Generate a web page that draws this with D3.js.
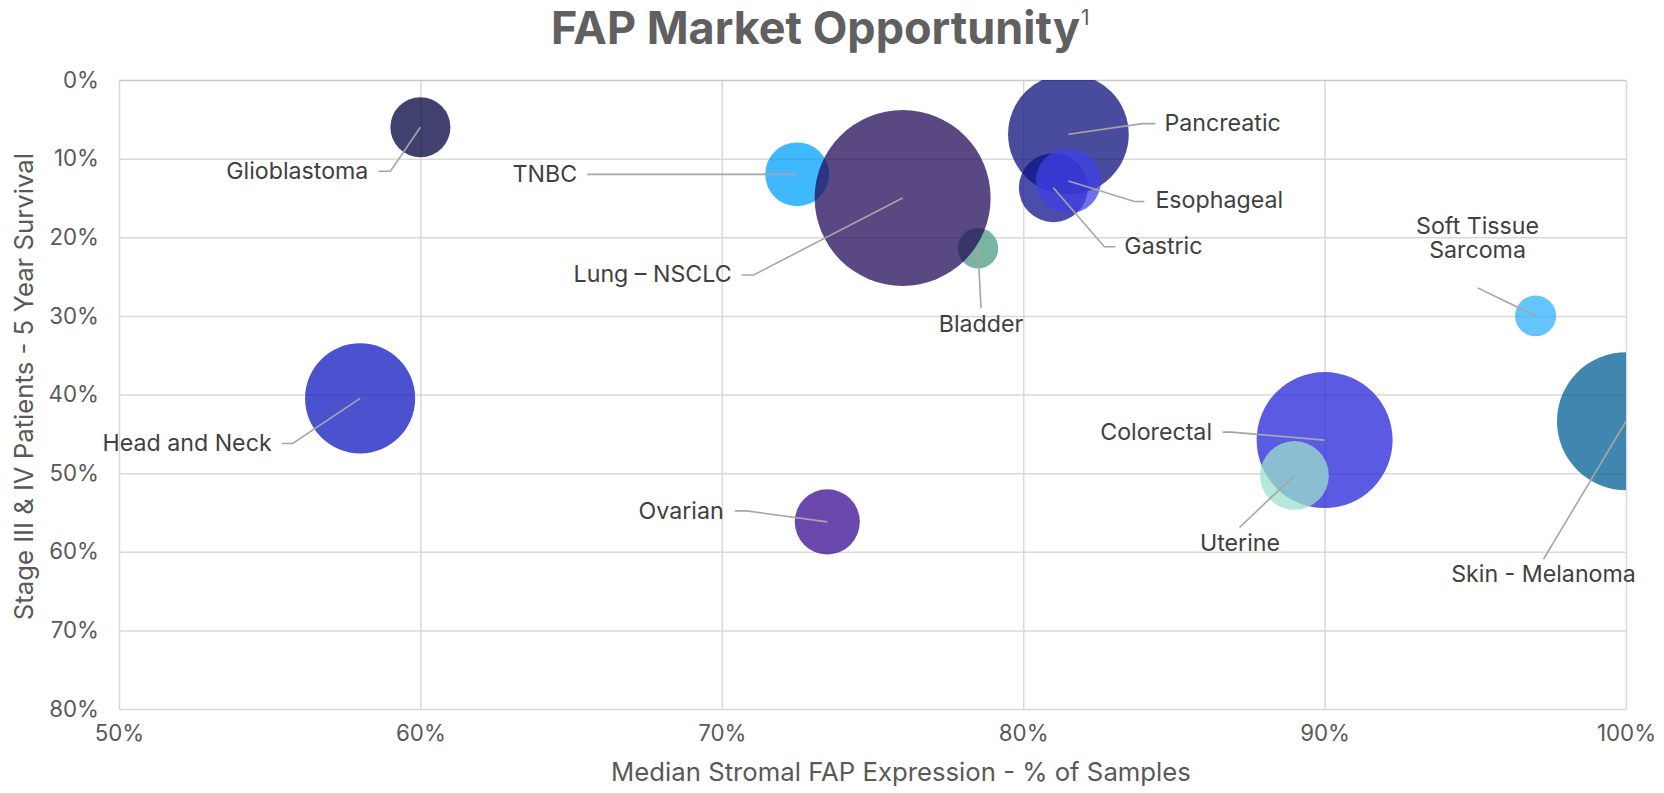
<!DOCTYPE html>
<html>
<head>
<meta charset="utf-8">
<script src="https://cdn.jsdelivr.net/npm/d3@7"></script>
<style>
  html, body { margin: 0; padding: 0; background: #ffffff; }
  svg { display: block; font-family: Inter, "Noto Sans", sans-serif; }
</style>
</head>
<body>
<svg id="chart" width="1664" height="793"></svg>
<script>
// ---------------- DATA ----------------
const cancers = ["Glioblastoma", "TNBC", "Bladder", "Lung \u2013 NSCLC", "Pancreatic", "Gastric",
  "Esophageal", "Soft Tissue Sarcoma", "Head and Neck", "Colorectal", "Uterine", "Skin - Melanoma", "Ovarian"];
const fapExpression = [60.0, 72.5, 78.5, 76.0, 81.5, 81.0, 81.5, 97.0, 58.0, 90.0, 89.0, 100.0, 73.5];
const survival = [6.0, 12.0, 21.4, 15.0, 6.9, 13.7, 12.85, 30.0, 40.5, 45.8, 50.3, 43.4, 56.2];
const bubbleSize = [9.0, 10.2, 4.1, 77.4, 36.4, 11.9, 10.6, 4.2, 30.3, 46.2, 11.8, 47.6, 10.6];
const xTicks = [50, 60, 70, 80, 90, 100];
const yTicks = [0, 10, 20, 30, 40, 50, 60, 70, 80];
const titleText = "FAP Market Opportunity";
const titleSup = "1";
const xTitle = "Median Stromal FAP Expression - % of Samples";
const yTitle = "Stage III & IV Patients - 5 Year Survival";

// ---------------- STYLE / LAYOUT ----------------
const colors = ["#00023f", "#00a0fc", "#4e9c84", "#230b58", "#0c107b", "#0f138b",
  "#4040e6", "#2fb2fb", "#0f18bf", "#2323d8", "#9ce0cb", "#005f96", "#380b92"];
// label layout: text offset from bubble center, anchor, and leader points (offsets)
const labelLayout = [
  { t: [-52, 43], a: "end", lead: [[-30, 44], [-42, 44]] },
  { t: [-220, -1], a: "end", lead: [[-210, 0]] },
  { t: [3, 75], a: "middle", lead: [[3, 60]] },
  { t: [-171, 76], a: "end", lead: [[-149, 77], [-161, 77]] },
  { t: [96, -12], a: "start", lead: [[74, -10.6], [87, -10.6]] },
  { t: [71, 57.5], a: "start", lead: [[51, 59], [62, 59]] },
  { t: [87, 19], a: "start", lead: [[66, 20.5], [76, 20.5]] },
  { t: [-58, -90], a: "middle", lead: [[-58, -28]], lines: ["Soft Tissue", "Sarcoma"] },
  { t: [-88.5, 44.6], a: "end", lead: [[-67.4, 45], [-78.5, 45]] },
  { t: [-112.6, -8.4], a: "end", lead: [[-93, -8], [-102, -8]] },
  { t: [-54.5, 67.5], a: "middle", lead: [[-55, 52]] },
  { t: [-82.5, 152], a: "middle", lead: [[-82.5, 138]] },
  { t: [-103.6, -11.4], a: "end", lead: [[-81, -11], [-92.5, -11]] }
];
const labelFont = 23.2;

const W = 1664, H = 793;
const plot = { left: 119, right: 1626, top: 80, bottom: 709 };

const svg = d3.select("#chart");

// measure helper: font size that makes text reach a target width
function fitSize(txt, base, target, weight) {
  const t = svg.append("text").style("font-size", base + "px")
    .style("font-weight", weight || 400).text(txt);
  const w = t.node().getComputedTextLength();
  t.remove();
  return w > 0 ? base * target / w : base;
}
const tickFont = fitSize("70%", 22, 48.3);

const x = d3.scaleLinear().domain([50, 100]).range([plot.left, plot.right]);
const y = d3.scaleLinear().domain([0, 80]).range([plot.top, plot.bottom]);
const r = d3.scaleSqrt().domain([0, d3.max(bubbleSize)]).range([0, 88]);

// ---------------- GRID / AXES ----------------
const gx = svg.append("g")
  .attr("transform", `translate(0,${plot.bottom})`)
  .call(d3.axisBottom(x).tickValues(xTicks).tickSize(-(plot.bottom - plot.top))
    .tickPadding(16).tickFormat(d => d + "%"));
gx.select(".domain").remove();
gx.selectAll(".tick line").attr("stroke", "#d9d9d9").attr("stroke-width", 1.5);
gx.selectAll(".tick text").attr("fill", "#595959").style("font-size", tickFont + "px")
  .style("font-family", "Inter, sans-serif");

const gy = svg.append("g")
  .attr("transform", `translate(${plot.left},0)`)
  .call(d3.axisLeft(y).tickValues(yTicks).tickSize(-(plot.right - plot.left))
    .tickPadding(20).tickFormat(d => d + "%"));
gy.select(".domain").remove();
gy.selectAll(".tick line").attr("stroke", "#d9d9d9").attr("stroke-width", 1.5);
gy.selectAll(".tick line").filter(d => d === 0).attr("stroke", "#c8c8c8");
gy.selectAll(".tick text").attr("fill", "#595959").style("font-size", tickFont + "px")
  .style("font-family", "Inter, sans-serif");

// ---------------- BUBBLES ----------------
svg.append("defs").append("clipPath").attr("id", "plotClip")
  .append("rect")
  .attr("x", plot.left).attr("y", plot.top)
  .attr("width", plot.right - plot.left).attr("height", plot.bottom - plot.top);

const idx = d3.range(cancers.length);

svg.append("g").attr("clip-path", "url(#plotClip)")
  .selectAll("circle").data(idx).join("circle")
  .attr("cx", i => x(fapExpression[i]))
  .attr("cy", i => y(survival[i]))
  .attr("r", i => r(bubbleSize[i]))
  .attr("fill", i => colors[i])
  .attr("fill-opacity", 0.75);

// ---------------- LEADERS & LABELS ----------------
const leaders = svg.append("g");
idx.forEach(i => {
  const cx = x(fapExpression[i]), cy = y(survival[i]);
  const L = labelLayout[i];
  const pts = [[cx, cy]].concat(L.lead.map(p => [cx + p[0], cy + p[1]]));
  leaders.append("path")
    .attr("d", d3.line()(pts))
    .attr("fill", "none")
    .attr("stroke", "#a6a6a6")
    .attr("stroke-width", 1.6);
});

const labels = svg.append("g");
idx.forEach(i => {
  const cx = x(fapExpression[i]), cy = y(survival[i]);
  const L = labelLayout[i];
  const lines = L.lines || [cancers[i]];
  const t = labels.append("text")
    .attr("x", cx + L.t[0])
    .attr("y", cy + L.t[1])
    .attr("text-anchor", L.a)
    .attr("fill", "#404040")
    .style("font-size", labelFont + "px");
  lines.forEach((ln, k) => {
    t.append("tspan")
      .attr("x", cx + L.t[0])
      .attr("y", cy + L.t[1] + k * 24)
      .attr("dy", "0.36em")
      .text(ln);
  });
});

// ---------------- TITLES ----------------
const titleFont = fitSize(titleText, 46, 529, 700);
const title = svg.append("text")
  .attr("x", 551).attr("y", 44)
  .attr("text-anchor", "start")
  .attr("fill", "#606060");
title.append("tspan").style("font-size", titleFont + "px").style("font-weight", 700).text(titleText);
title.append("tspan").style("font-size", "21px").style("font-weight", 400)
  .attr("dx", 1).attr("dy", -19).text(titleSup);

const axisTitleFont = fitSize(xTitle, 24, 580);
svg.append("text")
  .attr("x", 901).attr("y", 781)
  .attr("text-anchor", "middle")
  .attr("fill", "#595959")
  .style("font-size", axisTitleFont + "px")
  .text(xTitle);

svg.append("text")
  .attr("transform", "translate(33,153) rotate(-90)")
  .attr("text-anchor", "end")
  .attr("fill", "#595959")
  .style("font-size", axisTitleFont + "px")
  .text(yTitle);
</script>
</body>
</html>
